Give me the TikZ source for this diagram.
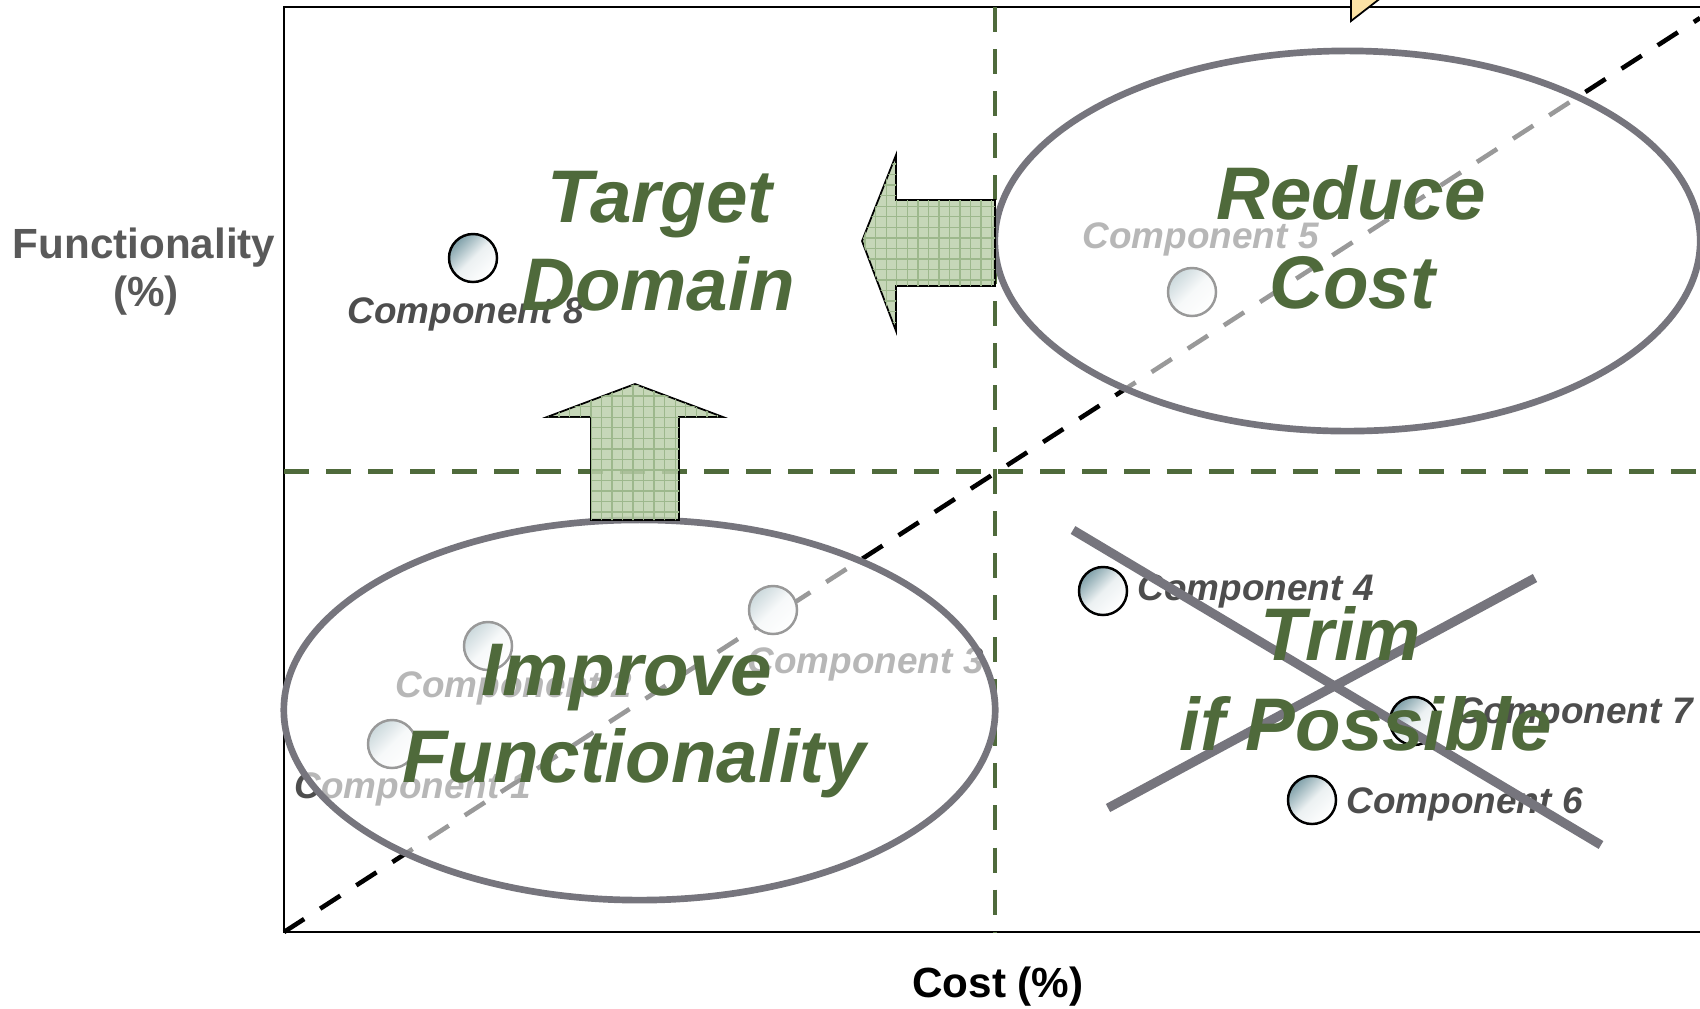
\documentclass[tikz,border=0pt]{standalone}
\usepackage{fontspec}
\setmainfont{Liberation Sans}
\usetikzlibrary{shapes.geometric,patterns}
\definecolor{ggreen}{HTML}{4F6A3B}
\definecolor{egray}{HTML}{76757D}
\definecolor{lgray}{HTML}{4D4D4D}
\definecolor{afill}{HTML}{BCD0AB}
\definecolor{agrid}{HTML}{9DB88C}
\definecolor{ballc}{HTML}{7E9FA8}
\definecolor{ylw}{HTML}{FBE2A5}
\definecolor{axgray}{HTML}{595959}
\begin{document}
\begin{tikzpicture}[x=0.01cm,y=-0.01cm,
  frameline/.style={draw=black, line width=0.5pt},
  gdash/.style={draw=ggreen, line width=1.3pt, dash pattern=on 0.25cm off 0.17cm},
  kdash/.style={draw=black, line width=1.3pt, dash pattern=on 0.24cm off 0.19cm},
  comp/.style={circle, draw=black, line width=0.7pt, minimum size=0.48cm, inner sep=0pt, top color=ballc, bottom color=white, middle color=white!85!ballc, shading angle=45},
  clabel/.style={inner sep=0pt, anchor=base west, text=lgray, font=\fontsize{10.5}{12}\selectfont\bfseries\itshape},
  oval/.style={ellipse, draw=egray, line width=1.9pt, fill=white, fill opacity=0.6, inner sep=0pt},
  bigarrow/.style={draw=black, line width=0.5pt, fill=afill, fill opacity=0.85, postaction={pattern=grid, pattern color=agrid}},
  xline/.style={draw=egray, line width=2.6pt},
  big/.style={inner sep=0pt, anchor=base, text=ggreen, font=\fontsize{21.2}{25}\selectfont\bfseries\itshape},
  axlab/.style={inner sep=0pt, anchor=base, font=\fontsize{12}{14}\selectfont\bfseries}]
\useasboundingbox (0,0) rectangle (1700,1008);
\clip (0,0) rectangle (1700,1008);
% frame
\coordinate (tl) at (284,7);
\coordinate (bl) at (284,932);
\coordinate (tr) at (1705,7);
\coordinate (br) at (1705,932);
\draw[frameline] (tr) -- (tl) -- (bl) -- (br);
% quadrant lines
\coordinate (vt) at (995,7);
\coordinate (vb) at (995,932);
\coordinate (hl) at (284,471.5);
\coordinate (hr) at (1705,471.5);
\draw[gdash] (vt) -- (vb);
\draw[gdash] (hl) -- (hr);
\coordinate (de) at (1700,18);
\draw[kdash] (bl) -- (de);
% components
\node[comp] (b8) at (473,258) {};
\node[clabel] (l8) at (347,323) {Component 8};
\node[comp] (b5) at (1192,292) {};
\node[clabel] (l5) at (1082,248) {Component 5};
\node[comp] (b1) at (392,744) {};
\node[clabel] (l1) at (294,798) {Component 1};
\node[comp] (b2) at (488,646) {};
\node[clabel] (l2) at (395,697) {Component 2};
\node[comp] (b3) at (773,610) {};
\node[clabel] (l3) at (747,673) {Component 3};
\node[comp] (b4) at (1103,591) {};
\node[clabel] (l4) at (1137,600) {Component 4};
\node[comp] (b7) at (1414,721) {};
\node[clabel] (l7) at (1456,723) {Component 7};
\node[comp] (b6) at (1312,800) {};
\node[clabel] (l6) at (1346,813) {Component 6};
% ovals
\node[oval, minimum width=7.05cm, minimum height=3.8cm] (rc) at (1347.5,241) {};
\node[oval, minimum width=7.11cm, minimum height=3.8cm] (ifn) at (639.5,710) {};
% arrows
\draw[bigarrow] (862,241) -- (896,155) -- (896,200) -- (995,200) -- (995,286) -- (896,286) -- (896,331) -- cycle;
\draw[bigarrow] (635,384) -- (723,417) -- (679,417) -- (679,520) -- (591,520) -- (591,417) -- (547,417) -- cycle;
% cross
\draw[xline] (1073,530) -- (1601,845);
\draw[xline] (1108,808) -- (1535,578);
% big labels
\node[big] (t1) at (660,222) {Target};
\node[big] (t2) at (658,310) {Domain};
\node[big] (r1) at (1351,219) {Reduce};
\node[big] (r2) at (1352,308) {Cost};
\node[big] (i1) at (627,695) {Improve};
\node[big] (i2) at (634,782) {Functionality};
\node[big] (p1) at (1341,660) {Trim};
\node[big] (p2) at (1366,750) {if Possible};
% axis labels
\node[axlab, text=axgray] (fy1) at (144,258) {Functionality};
\node[axlab, text=axgray] (fy2) at (146,306) {(\%)};
\node[axlab, text=black] (fx) at (998,997) {Cost (\%)};
% callout tip
\draw[fill=ylw, draw=black, line width=0.5pt] (1351,-3) -- (1351,21) -- (1382,-3);
\end{tikzpicture}
\end{document}
